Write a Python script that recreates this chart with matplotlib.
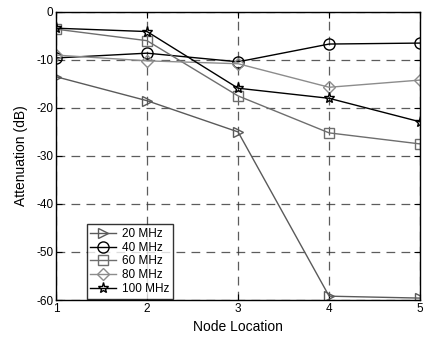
import numpy as np
import matplotlib.pyplot as plt

plt.rcParams["font.family"] = ["Liberation Sans", "DejaVu Sans"]
plt.rcParams["axes.unicode_minus"] = False

nodes = [1, 2, 3, 4, 5]
att_20 = [-13.5, -18.5, -25.0, -59.2, -59.6]
att_40 = [-9.6, -8.6, -10.4, -6.7, -6.5]
att_60 = [-3.6, -6.0, -17.5, -25.2, -27.5]
att_80 = [-9.0, -10.2, -10.8, -15.7, -14.2]
att_100 = [-3.4, -4.1, -15.9, -18.0, -22.9]

series = [
    ("20 MHz", att_20, ">", "#5a5a5a"),
    ("40 MHz", att_40, "o", "black"),
    ("60 MHz", att_60, "s", "#6e6e6e"),
    ("80 MHz", att_80, "D", "#8c8c8c"),
    ("100 MHz", att_100, "*", "black"),
]

fig = plt.figure(figsize=(4.24, 3.39), dpi=100)
ax = fig.add_axes([0.132, 0.115, 0.859, 0.85])

for label, vals, mk, col in series:
    ms = 8 if mk in ("o", "*") else 7
    if mk == "D":
        ms = 6
    ax.plot(nodes, vals, color=col, marker=mk, markersize=ms,
            markerfacecolor="none", markeredgecolor=col, linewidth=1.0,
            label=label)

ax.set_xlim(1, 5)
ax.set_ylim(-60, 0)
ax.set_xticks([1, 2, 3, 4, 5])
ax.set_yticks([-60, -50, -40, -30, -20, -10, 0])
ax.grid(True, color="#333333", linestyle=(0, (7, 5)), linewidth=0.9, alpha=0.8)
ax.tick_params(direction="in", labelsize=8.5, length=4, pad=2,
               top=True, right=True)
for s in ax.spines.values():
    s.set_linewidth(1.0)

ax.set_xlabel("Node Location", fontsize=10)
ax.set_ylabel("Attenuation (dB)", fontsize=10, labelpad=6)

leg = ax.legend(loc="lower left", bbox_to_anchor=(0.085, 0.005), fontsize=8.5,
                frameon=True, fancybox=False, edgecolor="black",
                handlelength=2.2, handletextpad=0.5, labelspacing=0.15,
                borderpad=0.3, borderaxespad=0)
leg.get_frame().set_linewidth(1.0)

fig.savefig("out.png", dpi=100)
